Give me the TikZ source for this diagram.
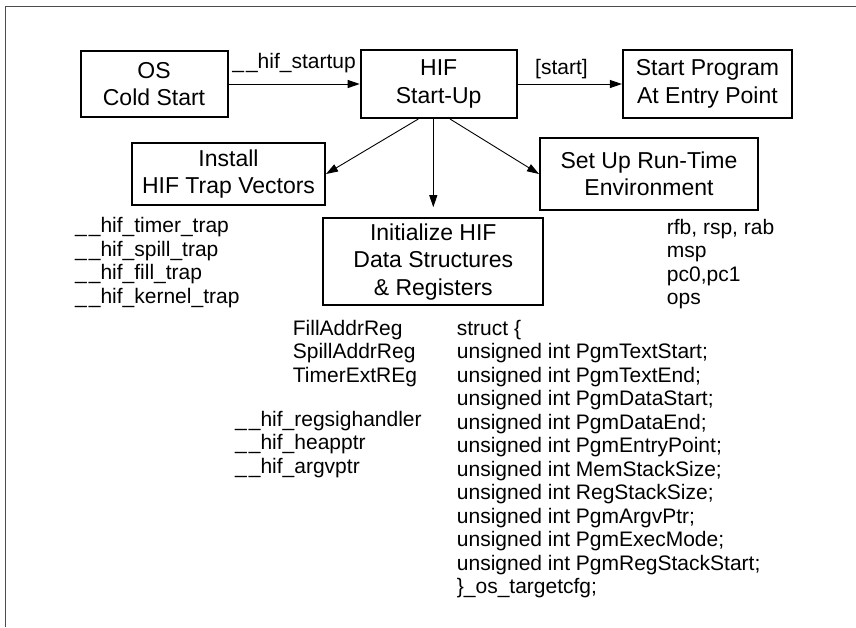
\documentclass[tikz,border=0pt]{standalone}
\usepackage{fontspec}
\setmainfont{Liberation Sans}
\usetikzlibrary{arrows.meta}
\newcommand\boxfont{\fontsize{23}{27.5}\selectfont}
\newcommand\listfont{\fontsize{21}{23.5}\selectfont}
\newcommand\dunder{\_\kern2pt\_}

\begin{document}
\begin{tikzpicture}[x=1pt,y=-1pt,
    stepbox/.style={rectangle,draw,line width=2pt,align=center,font=\boxfont},
    listing/.style={anchor=north west,inner sep=0pt,align=left,font=\listfont},
    link/.style={-{Triangle[length=12pt,width=8pt]},line width=0.9pt},
    tag/.style={font=\listfont,inner sep=2pt}]
        \useasboundingbox (0,0) rectangle (856,627);
        % Frame
        \draw[black!70,line width=1.5pt] (5.7,627) -- (5.7,6.3) -- (856,6.3);
        % Top row
        \node[stepbox,minimum width=147pt,minimum height=66pt] (os) at (154,84) {OS\\Cold Start};
        \node[stepbox,minimum width=156pt,minimum height=68pt] (hif) at (438.7,84) {HIF\\Start-Up};
        \node[stepbox,minimum width=169pt,minimum height=68pt] (entry) at (707.4,84) {Start Program\\At Entry Point};
        % Second row
        \node[stepbox,minimum width=193pt,minimum height=62pt] (traps) at (228.5,174) {Install\\HIF Trap Vectors};
        \node[stepbox,minimum width=218pt,minimum height=72pt] (runtime) at (649,174) {Set Up Run-Time\\Environment};
        \node[stepbox,minimum width=220pt,minimum height=87pt] (init) at (433.3,261.7) {Initialize HIF\\Data Structures\\\& Registers};
        % Lists
        \node[listing] (traplist) at (75,217.5) {\dunder hif\_timer\_trap\\\dunder hif\_spill\_trap\\\dunder hif\_fill\_trap\\\dunder hif\_kernel\_trap};
        \node[listing] (envlist) at (666.7,219) {rfb, rsp, rab\\msp\\pc0,pc1\\ops};
        \node[listing] (reglist) at (292.7,319.8) {FillAddrReg\\SpillAddrReg\\TimerExtREg};
        \node[listing] (ptrlist) at (235,410.8) {\dunder hif\_regsighandler\\\dunder hif\_heapptr\\\dunder hif\_argvptr};
        \node[listing] (cfg) at (456.7,319.8) {struct \{\\
            unsigned int PgmTextStart;\\
            unsigned int PgmTextEnd;\\
            unsigned int PgmDataStart;\\
            unsigned int PgmDataEnd;\\
            unsigned int PgmEntryPoint;\\
            unsigned int MemStackSize;\\
            unsigned int RegStackSize;\\
            unsigned int PgmArgvPtr;\\
            unsigned int PgmExecMode;\\
            unsigned int PgmRegStackStart;\\
            \}\_os\_targetcfg;};
        % Edges
        \draw[link] (os) -- node[tag,above=9pt] {\dunder hif\_startup} (hif);
        \draw[link] (hif) -- node[tag,above=3pt,pos=0.42] {[start]} (entry);
        \draw[link] ([xshift=-20.4pt]hif.south) -- (traps.east);
        \draw[link,shorten >=10pt] (hif.south -| init.north) -- (init.north);
        \draw[link] ([xshift=11.3pt]hif.south) -- (runtime.west);
    \end{tikzpicture}
\end{document}
